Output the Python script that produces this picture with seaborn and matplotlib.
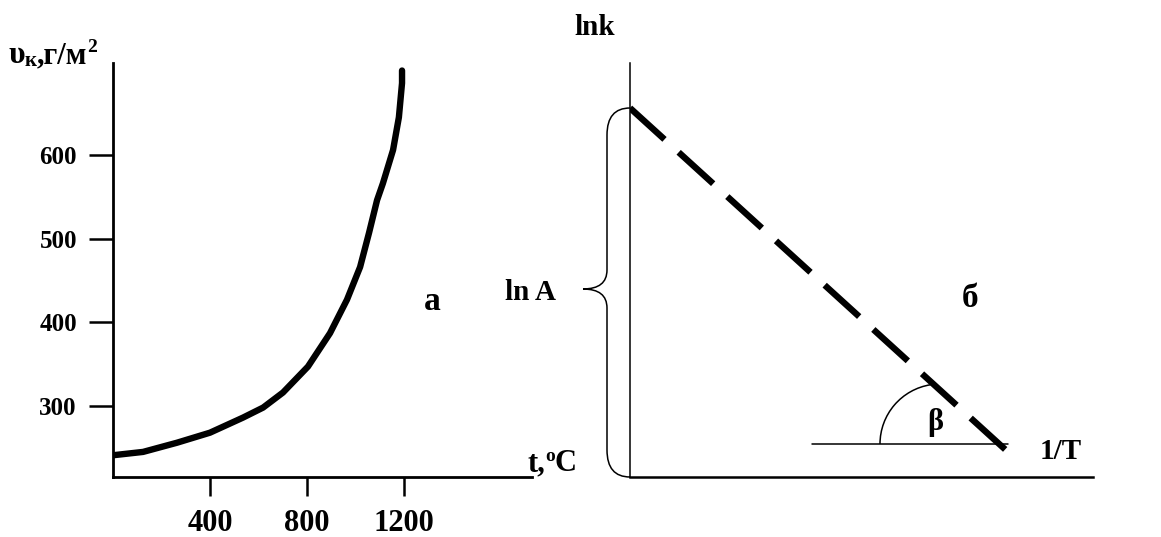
import numpy as np
import pandas as pd
import matplotlib
matplotlib.use("Agg")
import matplotlib.pyplot as plt
import seaborn as sns
from matplotlib.patches import Arc, PathPatch
from matplotlib.path import Path

# ---- data (left panel: corrosion rate vs temperature) ----
temps = [0, 124, 264, 400, 536, 619, 701, 804, 895, 965, 1019, 1056, 1089,
         1113, 1155, 1179, 1192, 1192]
rates = [241, 245, 256, 268, 286, 298, 316, 347, 387, 427, 466, 507, 546,
         566, 606, 645, 686, 701]
x_ticks = [400, 800, 1200]
y_ticks = [300, 400, 500, 600]

# ---- data (right panel: Arrhenius schematic, arbitrary units) ----
inv_T = [0, 378]
ln_k = [369, 25]
angle_base_x = [182, 378]
angle_base_y = [33, 33]

sns.set_theme(style="white")
plt.rcParams['font.family'] = ['Liberation Serif', 'DejaVu Serif']
plt.rcParams['font.weight'] = 'bold'
plt.rcParams['text.color'] = 'black'
plt.rcParams['axes.labelcolor'] = 'black'
plt.rcParams['xtick.color'] = 'black'
plt.rcParams['ytick.color'] = 'black'

W, H = 1161, 537
fig = plt.figure(figsize=(W / 100, H / 100), dpi=100)

def fx(px):
    return px / W

def fy(py):
    return 1 - py / H

axL = fig.add_axes([fx(113), fy(477), fx(532) - fx(113), fy(63) - fy(477)])
axR = fig.add_axes([fx(630), fy(477), fx(1093) - fx(630), fy(63) - fy(477)])

# left panel
df = pd.DataFrame({"t": temps, "v": rates})
sns.lineplot(data=df, x="t", y="v", ax=axL, color="black", linewidth=4.6,
             sort=False, estimator=None)
axL.lines[-1].set_solid_joinstyle('round')
axL.lines[-1].set_solid_capstyle('round')
axL.set_xlim(0, 1728)
axL.set_ylim(215, 710)
axL.set_xticks(x_ticks)
axL.set_yticks(y_ticks)
axL.set_xticklabels([str(v) for v in x_ticks], fontsize=22, fontweight='bold')
axL.set_yticklabels([str(v) for v in y_ticks], fontsize=18, fontweight='bold')
axL.tick_params(axis='x', direction='out', length=14, width=1.8, pad=9, colors='black')
axL.tick_params(axis='y', direction='out', length=17, width=1.8, pad=9, colors='black')
axL.tick_params(bottom=True, left=True)
for s in ['top', 'right']:
    axL.spines[s].set_visible(False)
for s in ['left', 'bottom']:
    axL.spines[s].set_color('black')
    axL.spines[s].set_linewidth(2.0)
axL.set_xlabel("")
axL.set_ylabel("")
axL.grid(False)

# right panel
axR.set_xlim(0, 463)
axR.set_ylim(0, 414)
sns.lineplot(x=inv_T, y=ln_k, ax=axR, color="black", linewidth=4.6,
             linestyle=(0, (7.3, 3.0)), sort=False, estimator=None)
axR.lines[-1].set_dash_capstyle('butt')
sns.lineplot(x=angle_base_x, y=angle_base_y, ax=axR, color="black",
             linewidth=1.1, sort=False, estimator=None)
axR.add_patch(Arc((310, 33), 120, 120, theta1=99, theta2=180,
                  color='black', lw=1.1))
# brace for ln A
verts = [(0, 369), (-23, 369), (-23, 342), (-23, 342),
         (-23, 207), (-23, 207),
         (-23, 188), (-47, 188), (-47, 188),
         (-23, 188), (-23, 169), (-23, 169),
         (-23, 27), (-23, 27),
         (-23, 0), (0, 0)]
codes = [Path.MOVETO, Path.CURVE3, Path.CURVE3, Path.LINETO,
         Path.LINETO, Path.LINETO,
         Path.CURVE3, Path.CURVE3, Path.LINETO,
         Path.CURVE3, Path.CURVE3, Path.LINETO,
         Path.LINETO, Path.LINETO,
         Path.CURVE3, Path.CURVE3]
axR.add_patch(PathPatch(Path(verts, codes), facecolor='none', edgecolor='black',
                        lw=1.1, clip_on=False))
axR.set_xticks([])
axR.set_yticks([])
for s in ['top', 'right']:
    axR.spines[s].set_visible(False)
axR.spines['left'].set_color('black')
axR.spines['left'].set_linewidth(1.1)
axR.spines['bottom'].set_color('black')
axR.spines['bottom'].set_linewidth(1.8)
axR.set_xlabel("")
axR.set_ylabel("")
axR.grid(False)

# ---- annotations, placed in figure pixel coords ----
renderer = fig.canvas.get_renderer()

def chain(parts, x0, base_y):
    """parts: list of (text, size, dy_px)"""
    x = x0
    for txt, size, dy in parts:
        t = fig.text(fx(x), fy(base_y - dy), txt, fontsize=size, fontweight='bold',
                     ha='left', va='baseline', color='black')
        bb = t.get_window_extent(renderer=renderer)
        x += bb.width

chain([("υ", 23, 0), ("к", 15, -3), (",г/м", 22, 0), ("2", 14, 11)], 8, 63)
chain([("t,", 22, 0), ("o", 14, 10), ("C", 22, 0)], 527, 471)

fig.text(fx(595), fy(35), "lnk", fontsize=21, fontweight='bold', ha='center', va='baseline')
fig.text(fx(1040), fy(459), "1/T", fontsize=21, fontweight='bold', ha='left', va='baseline')
fig.text(fx(505), fy(300), "ln A", fontsize=21, fontweight='bold', ha='left', va='baseline')
fig.text(fx(432), fy(310), "а", fontsize=24, fontweight='bold', ha='center', va='baseline')
fig.text(fx(970), fy(307), "б", fontsize=24, fontweight='bold', ha='center', va='baseline')
fig.text(fx(935), fy(430), "β", fontsize=22, fontweight='bold', ha='center', va='baseline')

fig.savefig("out.png", dpi=100, facecolor='white')
